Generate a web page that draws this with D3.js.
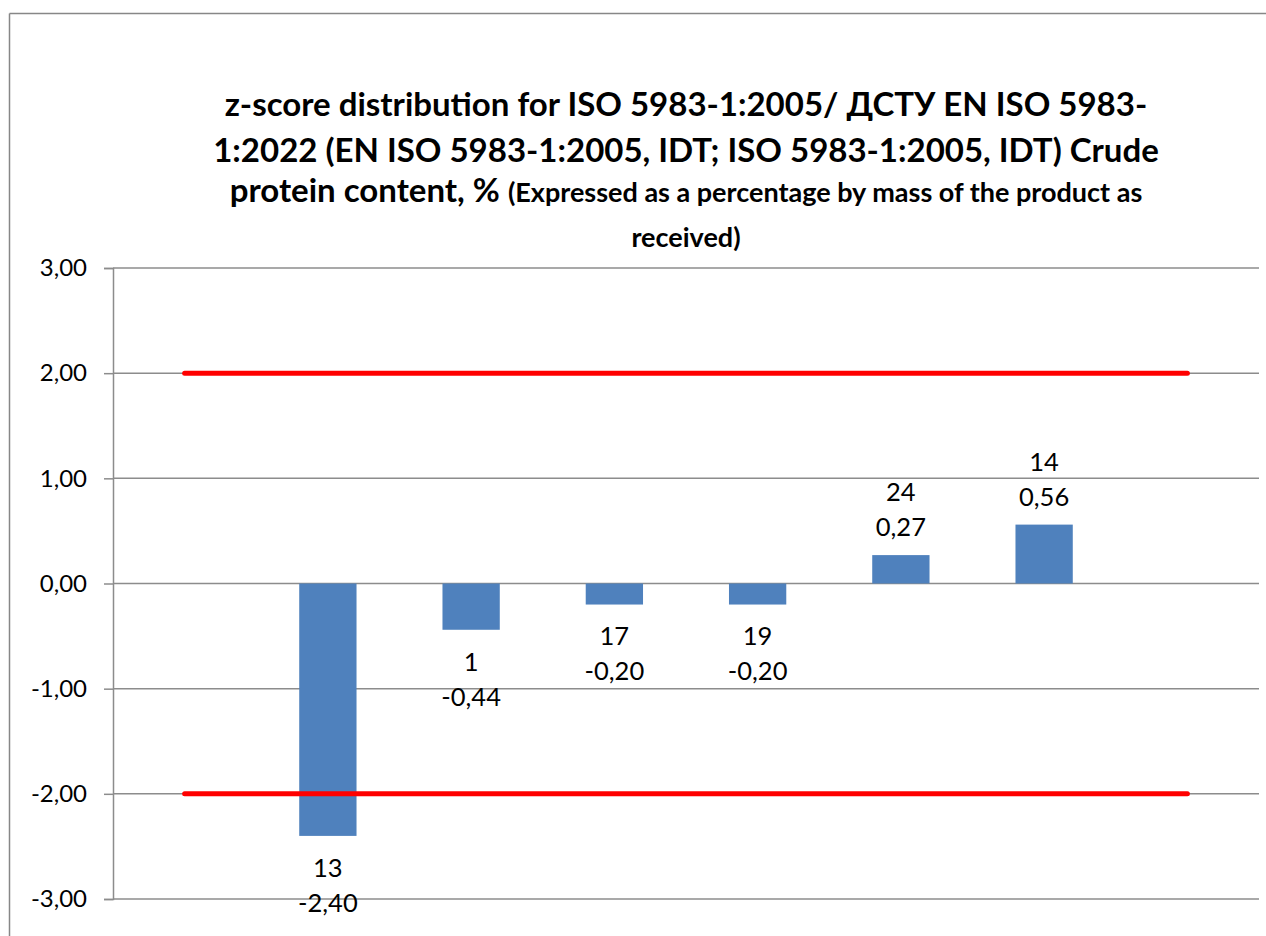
<!DOCTYPE html>
<html>
<head>
<meta charset="utf-8">
<script src="https://cdn.jsdelivr.net/npm/d3@7/dist/d3.min.js"></script>
<style>
  html, body { margin: 0; padding: 0; background: #fff; overflow: hidden; }
  svg { display: block; }
  text { font-family: Lato, "Open Sans", sans-serif; fill: #000; }
</style>
</head>
<body>
<svg id="chart" width="1266" height="936"></svg>
<script>
// Participant codes (first and last slots are empty, so the limit lines extend past the bars)
const categories = ["", "13", "1", "17", "19", "24", "14", " "];
// z-scores per participant
const zScores = [null, -2.40, -0.44, -0.20, -0.20, 0.27, 0.56, null];
// Acceptance limits |z| = 2
const upperLimit = [2, 2, 2, 2, 2, 2, 2, 2];
const lowerLimit = [-2, -2, -2, -2, -2, -2, -2, -2];
// Value axis ticks
const yTicks = [-3, -2, -1, 0, 1, 2, 3];

const titleLines = [
  "z-score distribution for ISO 5983-1:2005/ ДСТУ EN ISO 5983-",
  "1:2022 (EN ISO 5983-1:2005, IDT; ISO 5983-1:2005, IDT) Crude"
];
const titleLine3Big = "protein content, % ";
const titleLine3Small = "(Expressed as a percentage by mass of the product as";
const titleLine4 = "received)";

const svg = d3.select("#chart");
const W = 1266, H = 936;
const plot = { left: 113, right: 1259, top: 268, bottom: 899 };

// Outer chart frame (top and left edges fall inside the page)
const frame = svg.append("g").attr("stroke", "#878787").attr("stroke-width", 1.5);
frame.append("line").attr("x1", 9.5).attr("x2", W).attr("y1", 13.5).attr("y2", 13.5);
frame.append("line").attr("x1", 9.5).attr("x2", 9.5).attr("y1", 13.5).attr("y2", H);

const x = d3.scaleBand()
  .domain(categories)
  .range([plot.left, plot.right])
  .paddingInner(0.6).paddingOuter(0.3);

const y = d3.scaleLinear().domain([-3, 3]).range([plot.bottom, plot.top]);

const fmt = v => d3.format(".2f")(v).replace(".", ",").replace("−", "-");

// Horizontal gridlines
svg.append("g")
  .selectAll("line")
  .data(yTicks)
  .join("line")
  .attr("x1", plot.left).attr("x2", plot.right)
  .attr("y1", d => y(d)).attr("y2", d => y(d))
  .attr("stroke", "#8c8c8c").attr("stroke-width", 1.5);

// Value axis
const yAxis = d3.axisLeft(y)
  .tickValues(yTicks)
  .tickFormat(fmt)
  .tickSize(9)
  .tickPadding(17);

const gy = svg.append("g")
  .attr("transform", `translate(${plot.left},0)`)
  .call(yAxis);
gy.select(".domain").attr("stroke", "#8c8c8c").attr("stroke-width", 1.5);
gy.selectAll(".tick line").attr("stroke", "#8c8c8c").attr("stroke-width", 1.5);
gy.selectAll(".tick text")
  .attr("font-family", "Lato, 'Open Sans', sans-serif")
  .attr("font-size", 24).attr("fill", "#000");

// Bars
const barData = categories.map((c, i) => ({ c, v: zScores[i] })).filter(d => d.v !== null);

svg.append("g")
  .selectAll("rect")
  .data(barData)
  .join("rect")
  .attr("x", d => x(d.c))
  .attr("width", x.bandwidth())
  .attr("y", d => y(Math.max(0, d.v)))
  .attr("height", d => Math.abs(y(d.v) - y(0)))
  .attr("fill", "#4F81BD");

// Limit lines
const line = d3.line()
  .x((d, i) => x(categories[i]) + x.bandwidth() / 2)
  .y(d => y(d));

[upperLimit, lowerLimit].forEach(series => {
  svg.append("path")
    .datum(series)
    .attr("d", line)
    .attr("fill", "none")
    .attr("stroke", "#FF0000")
    .attr("stroke-width", 5)
    .attr("stroke-linecap", "round");
});

// Data labels: participant code above the value
const labels = svg.append("g")
  .selectAll("text")
  .data(barData)
  .join("text")
  .attr("text-anchor", "middle")
  .attr("font-size", 25.5)
  .attr("x", d => x(d.c) + x.bandwidth() / 2);

labels.each(function (d) {
  const t = d3.select(this);
  const end = y(d.v);
  // centre of the value line
  const valCy = d.v < 0 ? end + 32 + 35 : end - 28;
  const codeCy = valCy - 35;
  t.append("tspan").attr("x", t.attr("x")).attr("y", codeCy).attr("dy", "0.35em").text(d.c);
  t.append("tspan").attr("x", t.attr("x")).attr("y", valCy).attr("dy", "0.35em").text(fmt(d.v));
});

// Title
const cx = (plot.left + plot.right) / 2;
const title = svg.append("g").attr("font-weight", "bold");
titleLines.forEach((s, i) => {
  title.append("text")
    .attr("x", cx).attr("y", 104 + i * 46).attr("dy", "0.35em")
    .attr("text-anchor", "middle").attr("font-size", 33).text(s);
});
const l3 = title.append("text")
  .attr("x", cx).attr("y", 196).attr("dy", "0.35em")
  .attr("text-anchor", "middle");
l3.append("tspan").attr("font-size", 33).text(titleLine3Big);
l3.append("tspan").attr("font-size", 27).text(titleLine3Small);
title.append("text")
  .attr("x", cx).attr("y", 238).attr("dy", "0.35em")
  .attr("text-anchor", "middle").attr("font-size", 27).text(titleLine4);
</script>
</body>
</html>
